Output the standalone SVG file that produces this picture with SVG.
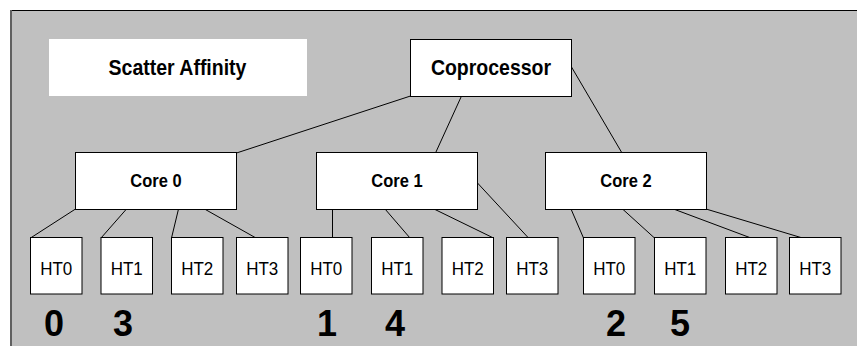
<svg xmlns="http://www.w3.org/2000/svg" width="857" height="346" viewBox="0 0 857 346">
  <style>
    .panel { fill: #c0c0c0; }
    .box { fill: #ffffff; stroke: #000000; stroke-width: 1; }
    .title { fill: #ffffff; }
    .wire { stroke: #000000; stroke-width: 1; fill: none; }
    text { font-family: "Liberation Sans", Arial, sans-serif; text-anchor: middle; fill: #000; }
    .big { font-weight: bold; font-size: 19.5px; }
    .core { font-weight: bold; font-size: 16.5px; }
    .ht { font-size: 17px; }
    .num { font-weight: bold; font-size: 36px; }
  </style>

  <!-- backdrop panel -->
  <rect class="panel" x="10" y="10" width="847" height="336"/>
  <line x1="10" y1="10.5" x2="857" y2="10.5" stroke="#000" stroke-width="1"/>
  <line x1="11" y1="10" x2="11" y2="346" stroke="#606060" stroke-width="2"/>

  <!-- heading -->
  <g id="label">
    <rect class="title" x="49" y="39" width="258" height="57"/>
    <text class="big" transform="translate(177.5,75) scale(1,1.12)">Scatter Affinity</text>
  </g>

  <!-- connectors -->
  <g id="connectors">
    <line class="wire" x1="410.5" y1="96" x2="236.5" y2="153"/>
    <line class="wire" x1="461.5" y1="96" x2="435.5" y2="153"/>
    <line class="wire" x1="571.5" y1="67" x2="622" y2="153"/>

    <line class="wire" x1="75.5" y1="209" x2="30.5" y2="238"/>
    <line class="wire" x1="126.5" y1="209" x2="101" y2="238"/>
    <line class="wire" x1="178.5" y1="209" x2="171.5" y2="238"/>
    <line class="wire" x1="204.5" y1="209" x2="256" y2="238"/>

    <line class="wire" x1="332.5" y1="209" x2="332.5" y2="238"/>
    <line class="wire" x1="385" y1="209" x2="410" y2="238"/>
    <line class="wire" x1="434" y1="209" x2="493.5" y2="238"/>
    <line class="wire" x1="477.5" y1="183" x2="528.5" y2="238"/>

    <line class="wire" x1="571" y1="209" x2="583.5" y2="238"/>
    <line class="wire" x1="622.5" y1="209" x2="654.5" y2="238"/>
    <line class="wire" x1="673.5" y1="209" x2="751" y2="238"/>
    <line class="wire" x1="706" y1="209" x2="802.5" y2="238"/>
  </g>

  <g id="coprocessor">
    <rect class="box" x="410.5" y="39.5" width="161" height="57"/>
    <text class="big" transform="translate(491,75) scale(1,1.12)">Coprocessor</text>
  </g>

  <g id="core0">
    <rect class="box" x="75.5" y="152.5" width="161" height="57"/>
    <text class="core" transform="translate(156,187) scale(1,1.12)">Core 0</text>
  </g>
  <g id="core1">
    <rect class="box" x="316.5" y="152.5" width="161" height="57"/>
    <text class="core" transform="translate(397,187) scale(1,1.12)">Core 1</text>
  </g>
  <g id="core2">
    <rect class="box" x="545.5" y="152.5" width="161" height="57"/>
    <text class="core" transform="translate(626,187) scale(1,1.12)">Core 2</text>
  </g>

  <!-- hardware threads of core 0 -->
  <g id="c0-ht0"><rect class="box" x="30.5" y="237.5" width="51.5" height="56.5"/><text class="ht" transform="translate(56.25,274.5) scale(1,1.12)">HT0</text></g>
  <g id="c0-ht1"><rect class="box" x="101" y="237.5" width="51.5" height="56.5"/><text class="ht" transform="translate(126.75,274.5) scale(1,1.12)">HT1</text></g>
  <g id="c0-ht2"><rect class="box" x="171.5" y="237.5" width="51.5" height="56.5"/><text class="ht" transform="translate(197.25,274.5) scale(1,1.12)">HT2</text></g>
  <g id="c0-ht3"><rect class="box" x="236.5" y="237.5" width="51.5" height="56.5"/><text class="ht" transform="translate(262.25,274.5) scale(1,1.12)">HT3</text></g>

  <!-- hardware threads of core 1 -->
  <g id="c1-ht0"><rect class="box" x="300.5" y="237.5" width="51.5" height="56.5"/><text class="ht" transform="translate(326.25,274.5) scale(1,1.12)">HT0</text></g>
  <g id="c1-ht1"><rect class="box" x="371.5" y="237.5" width="51.5" height="56.5"/><text class="ht" transform="translate(397.25,274.5) scale(1,1.12)">HT1</text></g>
  <g id="c1-ht2"><rect class="box" x="442" y="237.5" width="51.5" height="56.5"/><text class="ht" transform="translate(467.75,274.5) scale(1,1.12)">HT2</text></g>
  <g id="c1-ht3"><rect class="box" x="506.5" y="237.5" width="51.5" height="56.5"/><text class="ht" transform="translate(532.25,274.5) scale(1,1.12)">HT3</text></g>

  <!-- hardware threads of core 2 -->
  <g id="c2-ht0"><rect class="box" x="583.5" y="237.5" width="51.5" height="56.5"/><text class="ht" transform="translate(609.25,274.5) scale(1,1.12)">HT0</text></g>
  <g id="c2-ht1"><rect class="box" x="654.5" y="237.5" width="51.5" height="56.5"/><text class="ht" transform="translate(680.25,274.5) scale(1,1.12)">HT1</text></g>
  <g id="c2-ht2"><rect class="box" x="725.5" y="237.5" width="51.5" height="56.5"/><text class="ht" transform="translate(751.25,274.5) scale(1,1.12)">HT2</text></g>
  <g id="c2-ht3"><rect class="box" x="789.5" y="237.5" width="51.5" height="56.5"/><text class="ht" transform="translate(815.25,274.5) scale(1,1.12)">HT3</text></g>

  <!-- thread placement order -->
  <g id="order">
    <text class="num" x="54" y="335.5">0</text>
    <text class="num" x="123" y="335.5">3</text>
    <text class="num" x="327" y="335.5">1</text>
    <text class="num" x="395" y="335.5">4</text>
    <text class="num" x="616" y="335.5">2</text>
    <text class="num" x="680" y="335.5">5</text>
  </g>
</svg>
